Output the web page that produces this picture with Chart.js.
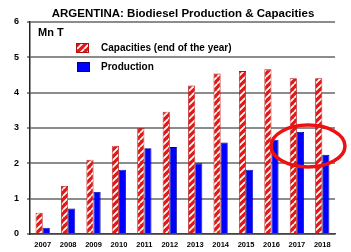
<!DOCTYPE html>
<html>
<head>
<meta charset="utf-8">
<script src="https://cdn.jsdelivr.net/npm/chart.js@4"></script>
<style>
  html, body { margin: 0; padding: 0; background: #fff; }
  #wrap { width: 351px; height: 252px; }
</style>
</head>
<body>
<div id="wrap"><canvas id="bioChart" width="351" height="252"></canvas></div>
<script>
const years = ['2007', '2008', '2009', '2010', '2011', '2012', '2013', '2014', '2015', '2016', '2017', '2018'];
const capacities = [0.6, 1.36, 2.1, 2.5, 3.0, 3.46, 4.2, 4.54, 4.61, 4.66, 4.41, 4.41];
const production = [0.18, 0.72, 1.19, 1.82, 2.43, 2.46, 2.0, 2.59, 1.82, 2.67, 2.89, 2.24];
const yTicks = [0, 1, 2, 3, 4, 5, 6];
const titleText = 'ARGENTINA: Biodiesel Production & Capacities';
const unitText = 'Mn T';

function stripePattern() {
    const c = document.createElement('canvas');
    c.width = 7; c.height = 7;
    const g = c.getContext('2d');
    g.fillStyle = '#e01a16';
    g.fillRect(0, 0, 7, 7);
    g.strokeStyle = '#ffffff';
    g.lineWidth = 1.7;
    g.beginPath();
    for (let k = -7; k <= 14; k += 7) {
        g.moveTo(k, 7);
        g.lineTo(k + 7, 0);
    }
    g.stroke();
    return document.getElementById('bioChart').getContext('2d').createPattern(c, 'repeat');
}
const redStripes = stripePattern();

const decor = {
    id: 'decor',
    afterDraw(chart) {
        const ctx = chart.ctx;
        ctx.save();
        ctx.fillStyle = '#000';
        ctx.textBaseline = 'middle';
        ctx.textAlign = 'center';
        ctx.font = 'bold 11.5px "Liberation Sans", Arial, sans-serif';
        ctx.fillText(titleText, 183, 14);
        ctx.textAlign = 'left';
        ctx.font = 'bold 11px "Liberation Sans", Arial, sans-serif';
        ctx.fillText(unitText, 38, 33);

        // legend
        const items = chart.data.datasets;
        const rows = [[76, 43], [77, 62]];
        items.forEach((ds, i) => {
            const [x, y] = rows[i];
            ctx.fillStyle = ds.backgroundColor;
            ctx.fillRect(x, y, 13, 10);
            ctx.strokeStyle = ds.borderColor;
            ctx.lineWidth = 1;
            ctx.strokeRect(x + 0.5, y + 0.5, 12, 9);
            ctx.fillStyle = '#000';
            ctx.font = 'bold 10px "Liberation Sans", Arial, sans-serif';
            ctx.fillText(ds.label, 101, y + 5);
        });

        // red highlight ellipse
        ctx.strokeStyle = '#ee1111';
        ctx.lineWidth = 3.5;
        ctx.beginPath();
        ctx.ellipse(308, 146, 37, 21, 0, 0, Math.PI * 2);
        ctx.stroke();
        ctx.restore();
    }
};

new Chart(document.getElementById('bioChart').getContext('2d'), {
    type: 'bar',
    data: {
        labels: years,
        datasets: [
            {
                label: 'Capacities (end of the year)',
                data: capacities,
                backgroundColor: redStripes,
                borderColor: '#b01010',
                borderWidth: 0.8,
                categoryPercentage: 0.56,
                barPercentage: 1.0
            },
            {
                label: 'Production',
                data: production,
                backgroundColor: '#0000ff',
                borderColor: '#00008a',
                borderWidth: 0.8,
                categoryPercentage: 0.56,
                barPercentage: 1.0
            }
        ]
    },
    options: {
        responsive: false,
        animation: false,
        layout: { padding: { top: 22, right: 16, left: 0, bottom: 0 } },
        plugins: {
            legend: { display: false },
            title: { display: false },
            tooltip: { enabled: false }
        },
        scales: {
            x: {
                grid: { display: false, drawTicks: false },
                border: { color: '#444', width: 1.5 },
                ticks: {
                    color: '#000',
                    font: { family: '"Liberation Sans", Arial, sans-serif', size: 7.5, weight: 'bold' },
                    padding: 6,
                    maxRotation: 0,
                    autoSkip: false
                },
                afterFit: s => { s.height = 18; }
            },
            y: {
                min: 0,
                max: 6,
                afterBuildTicks: s => { s.ticks = yTicks.map(v => ({ value: v })); },
                grid: { color: '#8c8c8c', lineWidth: 2, drawTicks: true, tickLength: 3 },
                border: { color: '#222', width: 1.5 },
                ticks: {
                    color: '#000',
                    font: { family: '"Liberation Sans", Arial, sans-serif', size: 9, weight: 'bold' },
                    padding: 8
                },
                afterFit: s => { s.width = 30; }
            }
        }
    },
    plugins: [decor]
});
</script>
</body>
</html>
